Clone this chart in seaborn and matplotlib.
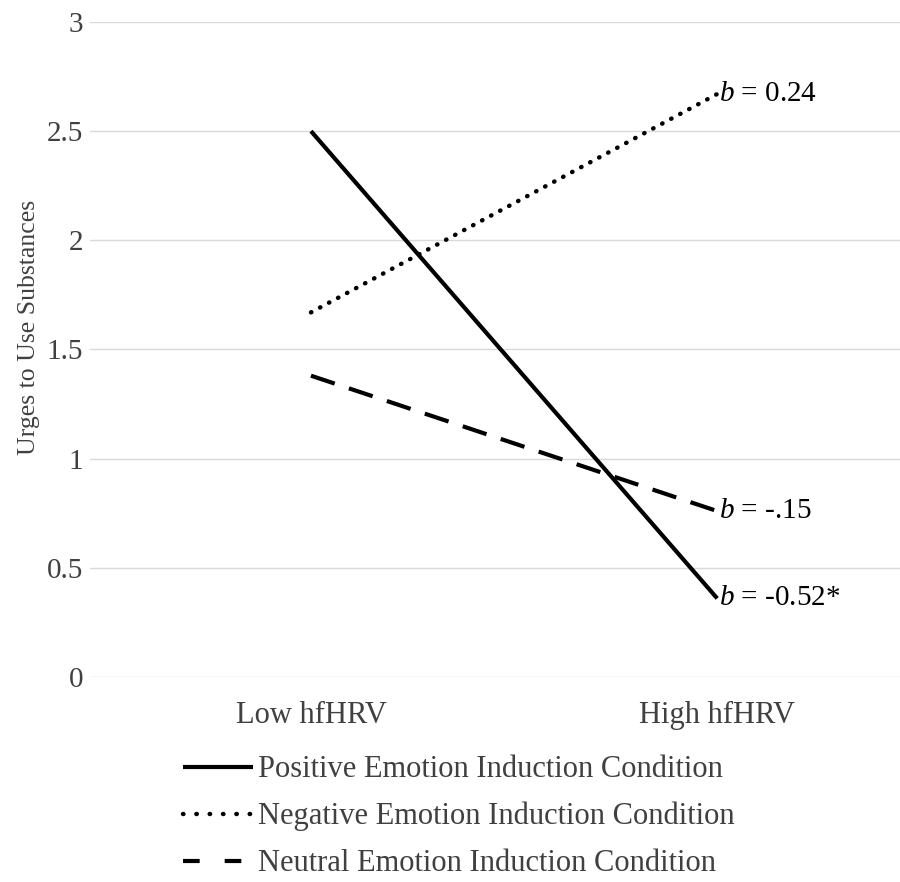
import pandas as pd
import matplotlib.pyplot as plt
import seaborn as sns
from matplotlib.lines import Line2D

# data
levels = ['Low hfHRV', 'High hfHRV']
positive = [2.50, 0.36]
negative = [1.67, 2.67]
neutral = [1.38, 0.76]
conditions = ['Positive Emotion Induction Condition',
              'Negative Emotion Induction Condition',
              'Neutral Emotion Induction Condition']
slopes = ['0.24', '-.15', '-0.52*']

df = pd.DataFrame({
    'x': [0, 1] * 3,
    'urge': positive + negative + neutral,
    'cond': [c for c in conditions for _ in range(2)],
})

sns.set_style('white')
plt.rcParams['font.family'] = ['Liberation Serif', 'DejaVu Serif']
plt.rcParams['mathtext.fontset'] = 'custom'
plt.rcParams['mathtext.it'] = 'Liberation Serif:italic'
plt.rcParams['mathtext.rm'] = 'Liberation Serif'

fig = plt.figure(figsize=(9, 8.82), dpi=100)
ax = fig.add_axes([0.1, 0.2324, 0.9, 0.7427])

dash_map = {conditions[0]: '', conditions[1]: (0.1, 2.2), conditions[2]: (6, 3.6)}
sns.lineplot(data=df, x='x', y='urge', hue='cond', style='cond',
             palette=['black'] * 3, dashes=dash_map, linewidth=3,
             legend=False, ax=ax)
for ln, cond in zip(ax.get_lines(), conditions):
    if cond == conditions[1]:
        ln.set_dash_capstyle('round')
        ln.set_linewidth(3.2)
    else:
        ln.set_dash_capstyle('butt')
    ln.set_solid_capstyle('butt')

ax.set_ylim(0, 3)
ax.set_xlim(-0.544, 1.45)
ax.set_yticks([0, 0.5, 1, 1.5, 2, 2.5, 3])
ax.set_yticklabels(['0', '0.5', '1', '1.5', '2', '2.5', '3'])
ax.set_xticks([0, 1])
ax.set_xticklabels(levels)
ax.tick_params(axis='y', labelsize=21, colors='#404040', length=0, pad=5)
ax.tick_params(axis='x', labelsize=22, colors='#404040', length=0, pad=17)
ax.grid(axis='y', color='#d9d9d9', linewidth=1)
ax.set_axisbelow(True)
for s in ax.spines.values():
    s.set_visible(False)
ax.set_xlabel('')
ax.set_ylabel('Urges to Use Substances', fontsize=18.5, color='#404040')
ax.yaxis.set_label_coords(-0.062, 0.533)

# slope labels at the right end of each line
ends = [negative[1], neutral[1], positive[1]]
for val, s in zip(ends, slopes):
    ax.annotate(r'$b$ = ' + s, xy=(1.0, val), xytext=(1, 0),
                textcoords='offset points', fontsize=21, color='black',
                va='center', ha='left')

handles = [Line2D([], [], color='black', lw=3, ls='-', solid_capstyle='butt'),
           Line2D([], [], color='black', lw=3.2, ls=(0, (0.1, 2.9)), dash_capstyle='round'),
           Line2D([], [], color='black', lw=3, ls=(0, (4, 6)), dash_capstyle='butt')]
fig.legend(handles, conditions, loc='upper left', bbox_to_anchor=(0.186, 0.161),
           frameon=False, fontsize=22, handlelength=2.3, handletextpad=0.16,
           labelspacing=0.58, labelcolor='#404040', borderpad=0)

fig.savefig('out.png', dpi=100)
